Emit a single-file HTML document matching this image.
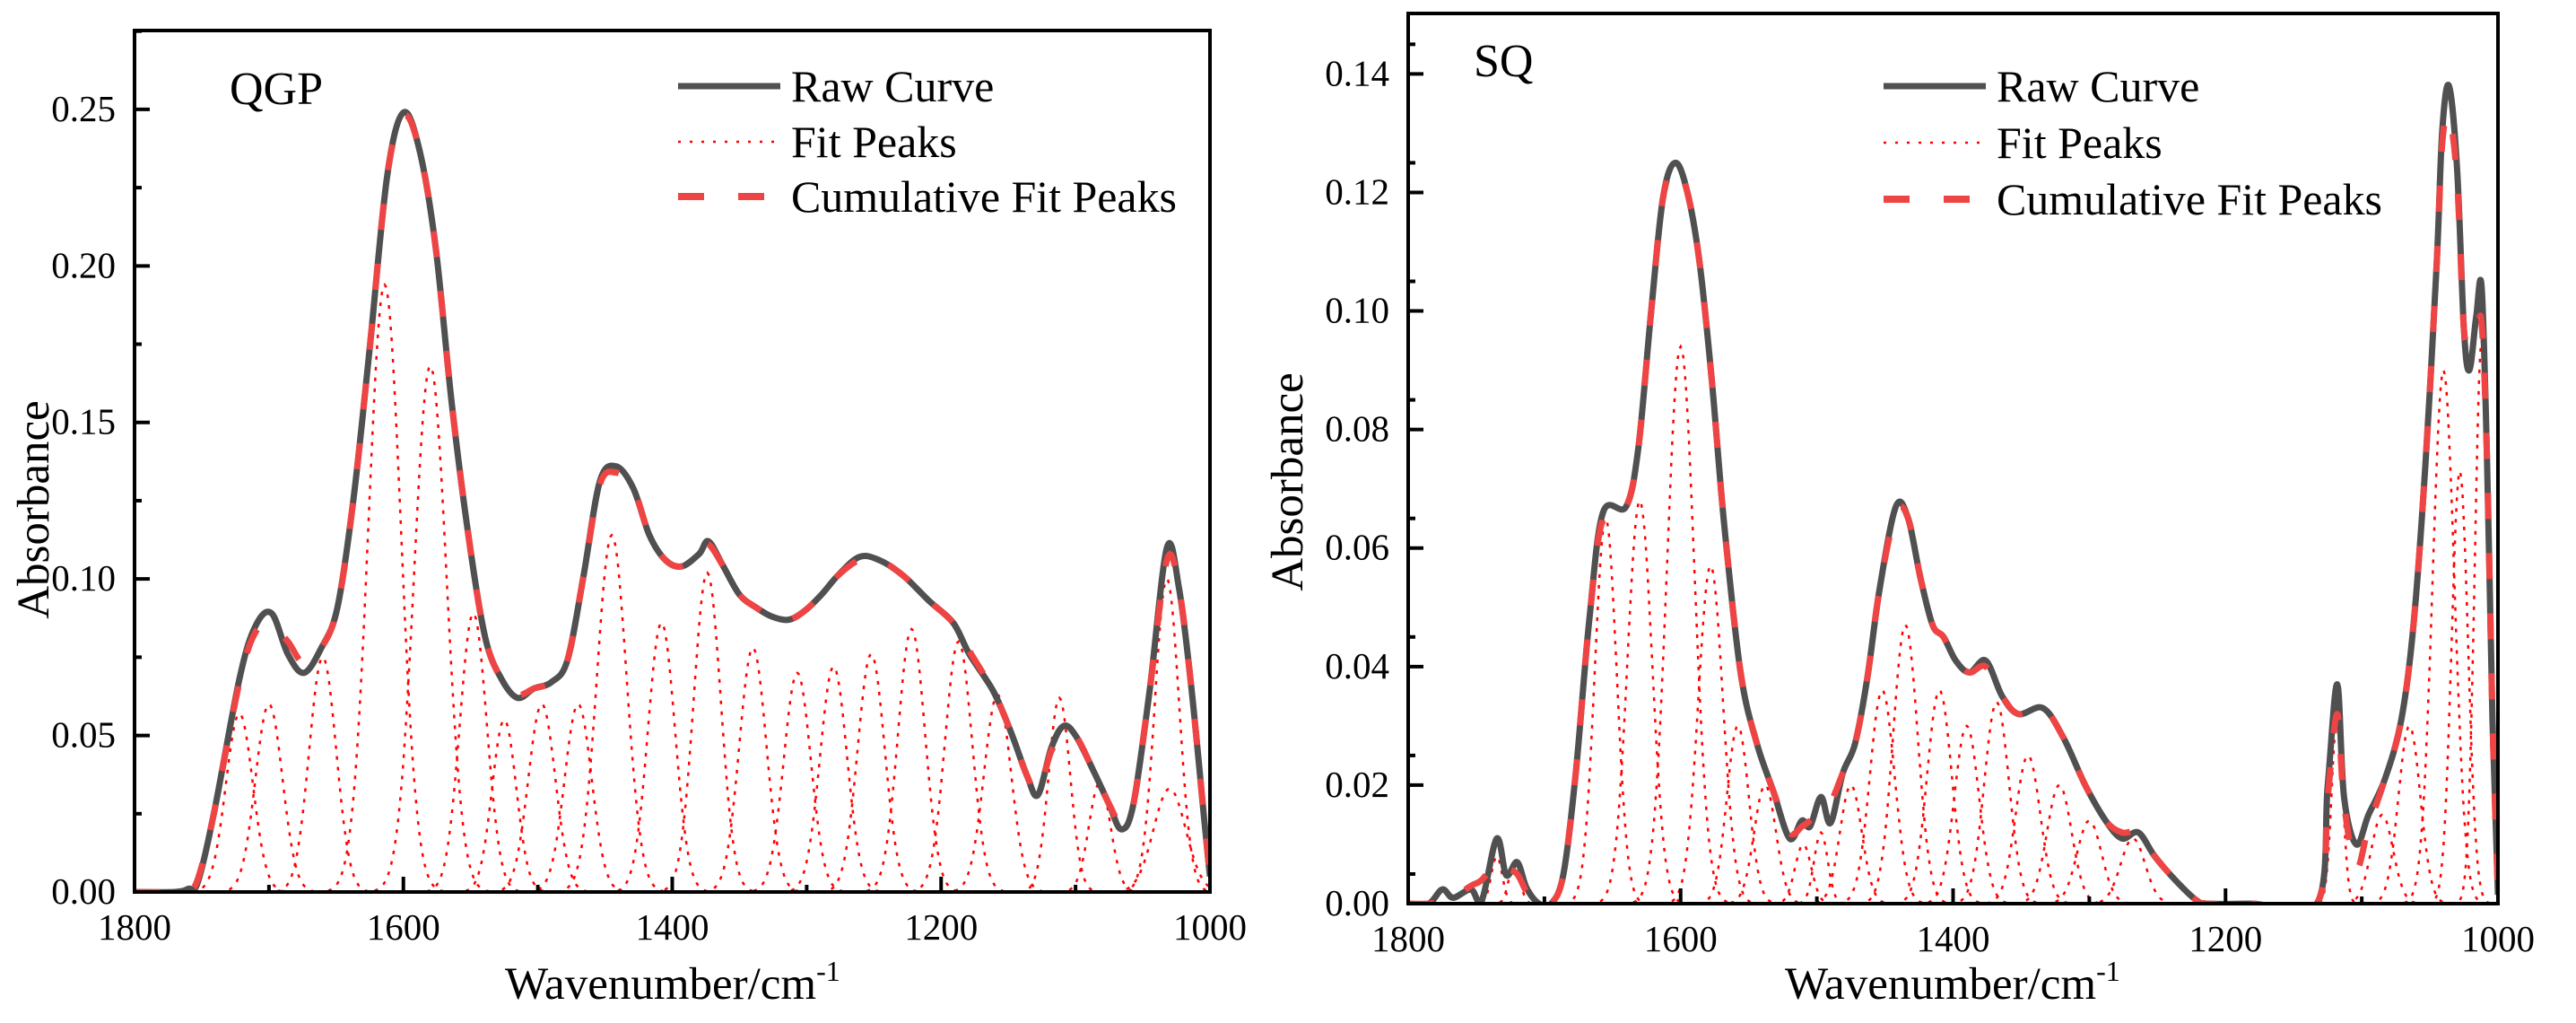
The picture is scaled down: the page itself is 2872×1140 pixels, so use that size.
<!DOCTYPE html>
<html><head><meta charset="utf-8"><style>
html,body{margin:0;padding:0;background:#fff;}
svg{display:block;}
svg text{font-family:"Liberation Serif","Times New Roman",serif;}
</style></head><body>
<svg id="fig" width="2872" height="1140" viewBox="0 0 2872 1140" xmlns="http://www.w3.org/2000/svg" font-family="Liberation Serif, serif"></svg>
<script>
// ---------- DATA ----------
const qgpWavenumbers = [1800,1770,1760,1753,1741,1722,1710,1698,1686,1674,1661,1649,1637,1625,1612,1600,1588,1576,1564,1551,1539,1527,1515,1503,1490,1478,1466,1454,1442,1429,1417,1405,1393,1380,1373,1362,1350,1338,1326,1313,1301,1289,1277,1261,1246,1228,1209,1191,1179,1161,1148,1136,1128,1118,1109,1100,1087,1075,1066,1057,1045,1032,1023,1014,1004,1000];
const qgpRaw = [0,0,0.001,0.003,0.025,0.068,0.085,0.089,0.076,0.070,0.078,0.091,0.126,0.174,0.229,0.249,0.237,0.206,0.156,0.112,0.081,0.068,0.062,0.065,0.067,0.074,0.101,0.131,0.136,0.129,0.114,0.106,0.104,0.108,0.112,0.104,0.095,0.091,0.088,0.087,0.090,0.095,0.101,0.107,0.106,0.101,0.093,0.086,0.076,0.064,0.051,0.037,0.031,0.046,0.053,0.050,0.039,0.028,0.020,0.028,0.064,0.110,0.097,0.066,0.022,0.005];
const qgpCumulative = [0,0,0.001,0.004,0.025,0.067,0.083,0.085,0.080,0.073,0.078,0.091,0.126,0.174,0.229,0.248,0.237,0.206,0.156,0.112,0.081,0.068,0.063,0.065,0.067,0.074,0.101,0.130,0.134,0.129,0.114,0.106,0.104,0.108,0.111,0.104,0.095,0.091,0.088,0.087,0.090,0.095,0.101,0.106,0.106,0.101,0.093,0.086,0.077,0.064,0.051,0.037,0.032,0.045,0.050,0.050,0.039,0.028,0.022,0.028,0.064,0.106,0.097,0.066,0.022,0.005];
const qgpPeakCenters = [1722,1700,1660,1614,1580,1548,1525,1497,1470,1445,1408,1374,1340,1307,1280,1252,1222,1187,1158,1112,1082,1032,1030];
const qgpPeakHeights = [0.057,0.060,0.075,0.194,0.168,0.089,0.055,0.060,0.060,0.114,0.086,0.102,0.078,0.070,0.072,0.076,0.084,0.080,0.063,0.062,0.035,0.100,0.033];
const qgpPeakWidths = [10,10,10,12,12,10,9,10,10,11,10,10,10,10,10,10,10,10,10,8,8,9,12];

const sqWavenumbers = [1800,1785,1775,1767,1754,1746,1735,1728,1720,1713,1704,1695,1686,1677,1667,1657,1640,1631,1622,1613,1604,1595,1586,1577,1568,1556,1544,1532,1520,1511,1505,1497,1490,1481,1472,1463,1454,1442,1433,1424,1415,1407,1398,1388,1376,1364,1352,1334,1319,1303,1288,1276,1264,1252,1237,1222,1213,1180,1133,1125,1118,1113,1104,1095,1083,1071,1062,1053,1045,1041,1036,1030,1025,1021,1016,1012,1008,1004,1000];
const sqRaw = [0,0,0.0024,0.001,0.0024,0.0005,0.011,0.0048,0.007,0.0026,0,0,0.005,0.022,0.048,0.066,0.067,0.077,0.099,0.119,0.125,0.120,0.108,0.088,0.064,0.039,0.027,0.019,0.011,0.014,0.013,0.018,0.0136,0.022,0.027,0.038,0.053,0.067,0.065,0.055,0.047,0.045,0.041,0.039,0.041,0.035,0.032,0.033,0.028,0.020,0.014,0.011,0.012,0.008,0.004,0.0007,0,0,0,0.020,0.037,0.018,0.010,0.015,0.021,0.031,0.047,0.075,0.108,0.130,0.138,0.124,0.097,0.090,0.099,0.104,0.075,0.031,0.0015];
const sqCumulative = [0,0,0.0005,0.001,0.003,0.004,0.007,0.006,0.005,0.002,0,0,0.005,0.022,0.048,0.065,0.067,0.077,0.099,0.119,0.124,0.120,0.108,0.088,0.064,0.039,0.027,0.019,0.012,0.013,0.014,0.016,0.017,0.022,0.027,0.038,0.053,0.066,0.065,0.055,0.047,0.045,0.041,0.039,0.040,0.035,0.032,0.033,0.028,0.020,0.014,0.012,0.012,0.008,0.004,0.0007,0,0,0,0.018,0.032,0.017,0.006,0.013,0.021,0.031,0.047,0.075,0.108,0.128,0.133,0.122,0.097,0.096,0.096,0.098,0.075,0.031,0.0015];
const sqPeakCenters = [1775,1735,1722,1655,1630,1600,1578,1558,1538,1510,1497,1475,1452,1435,1410,1390,1368,1345,1322,1300,1268,1118,1085,1065,1040,1028,1012];
const sqPeakHeights = [0.002,0.008,0.007,0.065,0.068,0.094,0.057,0.030,0.020,0.010,0.012,0.020,0.036,0.047,0.036,0.030,0.034,0.025,0.020,0.014,0.011,0.032,0.015,0.030,0.090,0.073,0.095];
const sqPeakWidths = [4,4,4,8,9,10,9,8,8,6,5,8,9,9,9,9,9,9,9,9,9,4,8,8,8,6,5];

const qgpYTicks = [0,0.05,0.10,0.15,0.20,0.25];
const qgpYTickLabels = ["0.00","0.05","0.10","0.15","0.20","0.25"];
const sqYTicks = [0,0.02,0.04,0.06,0.08,0.10,0.12,0.14];
const sqYTickLabels = ["0.00","0.02","0.04","0.06","0.08","0.10","0.12","0.14"];
const xTicks = [1800,1600,1400,1200,1000];
const xTickLabels = ["1800","1600","1400","1200","1000"];
const legendLabels = ["Raw Curve","Fit Peaks","Cumulative Fit Peaks"];

// ---------- DRAW ----------
const NS = "http://www.w3.org/2000/svg";
const FONT = '"Liberation Serif", serif';
const fig = document.getElementById('fig');
function el(tag, attrs, parent){
  const e = document.createElementNS(NS, tag);
  for (const k in attrs) e.setAttribute(k, attrs[k]);
  if (tag === 'text') e.style.fontFamily = FONT;
  (parent||fig).appendChild(e);
  return e;
}
function smoothPath(pts){
  let d = "M" + pts[0][0].toFixed(1) + "," + pts[0][1].toFixed(1);
  for (let i=0;i<pts.length-1;i++){
    const p0 = pts[i-1]||pts[i], p1=pts[i], p2=pts[i+1], p3=pts[i+2]||pts[i+1];
    const c1x = p1[0]+(p2[0]-p0[0])/6, c1y = p1[1]+(p2[1]-p0[1])/6;
    const c2x = p2[0]-(p3[0]-p1[0])/6, c2y = p2[1]-(p3[1]-p1[1])/6;
    d += " C"+c1x.toFixed(1)+","+c1y.toFixed(1)+" "+c2x.toFixed(1)+","+c2y.toFixed(1)+" "+p2[0].toFixed(1)+","+p2[1].toFixed(1);
  }
  return d;
}

function panel(cfg){
  const g = el('g', {});
  
  
  const xs = v => cfg.x0 + (1800 - v) / 800 * (cfg.x1 - cfg.x0);
  const ys = v => cfg.y1 - v / cfg.yMax * (cfg.y1 - cfg.y0);
  const clipId = 'clip-' + cfg.name;
  const cp = el('clipPath', {id: clipId}, g);
  el('rect', {x: cfg.x0, y: cfg.y0, width: cfg.x1 - cfg.x0, height: cfg.y1 - cfg.y0}, cp);

  const pg = el('g', {'clip-path': 'url(#' + clipId + ')'}, g);
  
  
  cfg.centers.forEach((c, i) => {
    const h = cfg.heights[i], s = cfg.widths[i];
    const pts = [];
    for (let w = c - 5 * s; w <= c + 5 * s; w += 1) {
      pts.push([xs(w), ys(h * Math.exp(-0.5 * Math.pow((w - c) / s, 2)))]);
    }
    const p = el('path', {d: "M" + pts.map(p => p[0].toFixed(1) + "," + p[1].toFixed(1)).join(" L"), fill: 'none', stroke: '#ff0000', 'stroke-width': 2.5, 'stroke-dasharray': '4 8'}, pg);
    
    
  });

  const rawPts = cfg.wn.map((w, i) => [xs(w), ys(cfg.raw[i])]);
  const rp = el('path', {d: smoothPath(rawPts), fill: 'none', stroke: '#505050', 'stroke-width': 7, 'stroke-linejoin': 'round', 'clip-path': 'url(#' + clipId + ')'}, g);
  
  
  const cumPts = cfg.wn.map((w, i) => [xs(w), ys(cfg.cum[i])]);
  const cpth = el('path', {d: smoothPath(cumPts), fill: 'none', stroke: '#ef4444', 'stroke-width': 7, 'stroke-dasharray': '29 38', 'clip-path': 'url(#' + clipId + ')'}, g);
  
  

  const fr = el('rect', {x: cfg.x0, y: cfg.y0, width: cfg.x1 - cfg.x0, height: cfg.y1 - cfg.y0, fill: 'none', stroke: '#000', 'stroke-width': 4}, g);
  
  

  cfg.yTicks.forEach((t, i) => {
    const y = ys(t);
    el('line', {x1: cfg.x0, x2: cfg.x0 + 17, y1: y, y2: y, stroke: '#000', 'stroke-width': 4}, g);
    const mid = t + cfg.yStep / 2;
    if (mid < cfg.yMax) el('line', {x1: cfg.x0, x2: cfg.x0 + 8, y1: ys(mid), y2: ys(mid), stroke: '#000', 'stroke-width': 4}, g);
    const tx = el('text', {x: cfg.x0 - 21, y: y + 13, 'text-anchor': 'end', 'font-size': 41}, g);
    tx.textContent = cfg.yTickLabels[i];
    
    
  });
  xTicks.forEach((t, i) => {
    const x = xs(t);
    el('line', {x1: x, x2: x, y1: cfg.y1, y2: cfg.y1 - 17, stroke: '#000', 'stroke-width': 4}, g);
    if (t > 1000) el('line', {x1: xs(t - 100), x2: xs(t - 100), y1: cfg.y1, y2: cfg.y1 - 8, stroke: '#000', 'stroke-width': 4}, g);
    const tx = el('text', {x: x, y: cfg.y1 + 53, 'text-anchor': 'middle', 'font-size': 41}, g);
    tx.textContent = xTickLabels[i];
    
    
  });

  const xt = el('text', {x: cfg.xTitleX, y: 1113, 'font-size': 51}, g);
  xt.textContent = 'Wavenumber/cm';
  const sup = el('tspan', {dy: -20, 'font-size': 32}, xt);
  sup.textContent = '-1';
  
  
  const yt = el('text', {x: 0, y: 0, 'font-size': 51, 'text-anchor': 'middle', transform: 'translate(' + cfg.yTitleX + ',' + cfg.yTitleY + ') rotate(-90)'}, g);
  yt.textContent = 'Absorbance';
  
  

  const sl = el('text', {x: cfg.labelX, y: cfg.labelY, 'font-size': 52}, g);
  sl.textContent = cfg.label;
  
  

  const lg = el('g', {}, g);
  
  
  const styles = [
    {stroke: '#505050', 'stroke-width': 7},
    {stroke: '#ff0000', 'stroke-width': 2.5, 'stroke-dasharray': '3 10'},
    {stroke: '#ef4444', 'stroke-width': 8, 'stroke-dasharray': '29 38'}
  ];
  legendLabels.forEach((lab, i) => {
    const ly = cfg.legY[i];
    const ln = el('line', Object.assign({x1: cfg.legX, x2: cfg.legX + 114, y1: ly, y2: ly}, styles[i]), lg);
    
    
    const attrs = {x: cfg.legX + 126, y: ly + 17, 'font-size': 50};
    if (i === 2) { attrs.textLength = 430; attrs.lengthAdjust = 'spacingAndGlyphs'; }
    const t = el('text', attrs, lg);
    t.textContent = lab;
    
    
  });
}

panel({name: 'qgp', x0: 150, x1: 1349, y0: 34, y1: 994, yMax: 0.2752, yStep: 0.05,
  wn: qgpWavenumbers, raw: qgpRaw, cum: qgpCumulative,
  centers: qgpPeakCenters, heights: qgpPeakHeights, widths: qgpPeakWidths,
  yTicks: qgpYTicks, yTickLabels: qgpYTickLabels,
  xTitleX: 563, yTitleX: 54, yTitleY: 568, label: 'QGP', labelX: 256, labelY: 116,
  legX: 756, legY: [96, 158, 219]});
panel({name: 'sq', x0: 1570, x1: 2785, y0: 15, y1: 1007, yMax: 0.1502, yStep: 0.01,
  wn: sqWavenumbers, raw: sqRaw, cum: sqCumulative,
  centers: sqPeakCenters, heights: sqPeakHeights, widths: sqPeakWidths,
  yTicks: sqYTicks, yTickLabels: sqYTickLabels,
  xTitleX: 1990, yTitleX: 1452, yTitleY: 537, label: 'SQ', labelX: 1643, labelY: 85,
  legX: 2100, legY: [96, 159, 222]});
</script>
</body></html>
